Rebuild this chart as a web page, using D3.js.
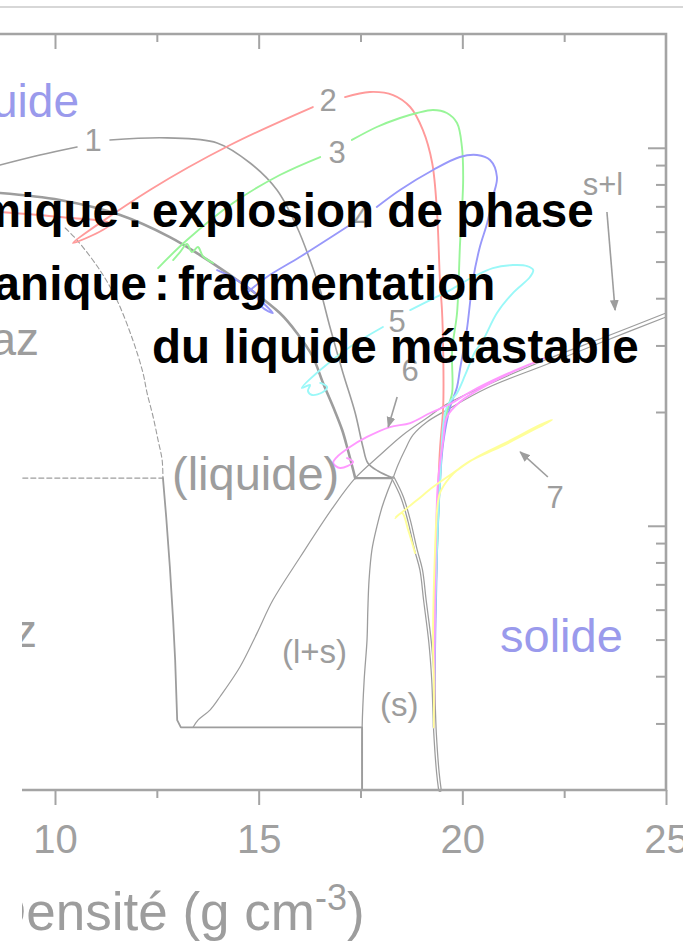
<!DOCTYPE html>
<html>
<head>
<meta charset="utf-8">
<script src="https://cdn.jsdelivr.net/npm/d3@7"></script>
<style>
  html, body { margin: 0; padding: 0; background: #fff; }
  svg { display: block; }
</style>
</head>
<body>
<svg id="chart" width="683" height="941"></svg>
<script>
// ---- axis ticks: density (g cm^-3) and temperature (K, log) ----
const densityMajorTicks = [10, 15, 20, 25];
const densityMinorTicks = [12.5, 17.5, 22.5];
const densityTickLabels = ["10", "15", "20", "25"];
const temperatureMajorTicks = [1000, 10000];
const temperatureMinorTicks = [300, 400, 500, 600, 700, 800, 900,
  2000, 3000, 4000, 5000, 6000, 7000, 8000, 9000];

// ---- phase boundaries, points are [density, temperature] ----
const liquidBinodal = [[8.65,7590],[10.12,7275],[11.60,6640],[12.82,5806],[13.56,5203],
  [14.54,4414],[15.52,3655],[15.94,3236],[16.33,2796],[16.58,2387],[16.83,2062],
  [17.05,1792],[17.19,1587],[17.32,1405],[17.37,1337]];
const tripleLine = [[17.37,1337],[18.30,1337]];
const solidBinodal = [[18.30,1337],[18.52,1192],[18.69,1036],[18.86,863],[18.99,764],
  [19.08,636],[19.21,490],[19.28,391],[19.33,283],[19.40,222],[19.45,200]];
const solidBoundary = [[18.30,1337],[18.15,1221],[18.03,1121],[17.90,993],[17.78,863],
  [17.71,719],[17.68,599],[17.66,499],[17.59,391],[17.54,293],[17.54,200]];
const meltingUpper = [[13.39,293],[13.51,306],[13.81,326],[14.05,353],[14.54,423],
  [14.96,520],[15.35,636],[16.02,827],[16.83,1121],[17.37,1337],[17.98,1539],
  [18.54,1739],[19.13,1928],[19.62,2100],[20.61,2358],[22.03,2745],[23.50,3158],[25.00,3655]];
const meltingLower = [[18.30,1337],[18.42,1448],[18.59,1587],[18.79,1739],[19.13,1882],
  [19.62,2025],[20.61,2315],[22.03,2663],[23.50,3082],[25.00,3567]];
const spinodal = [[10.25,6135],[10.54,5701],[11.10,4749],[11.52,3956],[11.91,3101],
  [12.16,2537],[12.26,2246],[12.41,1940],[12.53,1686],[12.63,1493],[12.65,1337]];
const metastableLimit = [[9.21,1337],[12.65,1337]];
const lowTempBoundary = [[12.65,1337],[12.73,1055],[12.82,778],[12.90,563],[12.95,441],
  [13.00,306],[13.09,293],[17.54,293],[17.54,200]];

// ---- thermodynamic paths 1..7 (null = break around a label) ----
const path1 = [[8.65,9004],[9.63,9570],[10.54,10050],null,[11.35,10490],[12.75,10620],
  [13.98,10300],[14.79,9115],[15.45,7732],[15.94,6172],[16.26,5047],[16.51,4204],
  [16.75,3356],[17.07,2537],[17.37,1988],[17.56,1616],[17.68,1466],[17.93,1396],[18.30,1337]];
const path2 = [[19.30,293],[19.33,469],[19.33,706],[19.38,1055],[19.45,1587],[19.53,2062],
  [19.53,2918],[19.50,3722],[19.45,4468],[19.38,6721],[19.26,9115],[19.03,11150],
  [18.72,12820],[18.30,13790],[17.73,14050],[17.12,13620],null,[16.33,12820],
  [14.30,10170],[12.33,7732],[10.44,5598],[11.35,6286],[10.12,6559],[8.65,6762]];
const path3 = [[19.30,293],[19.33,574],[19.38,863],[19.45,1298],[19.53,1760],[19.65,2062],
  [19.75,2246],[19.75,2918],[19.87,3655],[19.94,5463],[20.02,8218],[19.99,10050],
  [19.87,11630],[19.62,12360],[19.28,12590],[18.89,12360],[18.47,11990],[17.90,11350],
  [17.29,10490],null,[16.51,9454],[15.52,8473],[14.37,7143],[13.24,5701],[12.53,4807],
  null,[12.90,5047],[13.07,5299],[13.24,5564],[13.36,5299],[13.51,5463],[13.63,5172],[13.88,4956]];
const path4 = [[19.30,293],[19.38,863],[19.45,1298],[19.53,1656],[19.70,2062],[19.87,2329],
  [19.94,2583],[20.11,3296],[20.26,4468],[20.43,5463],[20.61,6325],[20.75,7409],
  [20.85,8370],[20.68,9283],[20.36,9570],[19.94,9454],[19.28,8734],[18.47,7732],
  [17.90,6971],null,[17.24,6248],[16.01,5140],[15.20,4551],[14.71,4128],
  null,[13.98,4749],[14.25,4606],[14.54,4414],[14.91,4128],[15.08,3791],[15.35,3655],[15.11,3884]];
const path5 = [[19.30,293],[19.33,574],[19.45,1298],[19.62,2062],[19.87,2246],[20.07,2506],
  [20.31,2882],[20.51,3101],[20.85,3655],[21.24,4128],[21.66,4551],[21.74,4749],
  [21.59,4866],[21.24,4896],[20.75,4807],[20.26,4551],[19.70,4204],[19.21,3956],
  [18.72,3722],null,[18.05,3356],[17.24,2972],[16.51,2583],[16.06,2315],[16.26,2358],
  [16.21,2273],[16.31,2218],[16.58,2259],[16.68,2329],[16.51,2387]];
const path6 = [[19.30,293],[19.33,636],[19.40,1298],[19.53,1686],[19.62,1940],[19.94,2126],
  [20.61,2358],[21.34,2583],[22.08,2796],[21.91,2745],[20.93,2476],[20.19,2259],
  [19.70,2100],[19.21,1988],[18.72,1870],[18.22,1825],[17.66,1718],[17.24,1616],
  [16.92,1520],[16.83,1466],[17.00,1422],[17.32,1475],[17.17,1511]];
const path7 = [[19.30,293],[19.30,391],[19.28,490],[19.33,863],[19.38,1101],[19.45,1221],
  [19.70,1346],[20.11,1466],[20.93,1616],[21.74,1792],[22.20,1905],[21.91,1848],
  [21.10,1666],[20.36,1520],[19.77,1379],[19.28,1266],[18.89,1170],[18.35,1049],
  [18.52,1081],[18.67,975],[18.84,847]];

// ---- pointer arrows [from, to] ----
const arrowSolidLiquid = [[23.55,6762],[23.75,3722]];
const arrowPath6 = [[18.40,2191],[18.18,1825]];
const arrowPath7 = [[22.10,1346],[21.42,1568]];

const GREY = "#9d9d9d";
const AXIS = "#a4a4a4";
const BLUE = "#9a9aec";
const FONT = "'Liberation Sans', Arial, Helvetica, sans-serif";

const svg = d3.select("#chart");

const x = d3.scaleLinear().domain([10, 25]).range([55, 666]);
const y = d3.scaleLog().domain([200, 20000]).range([790, 34]);

const straight = d3.line()
  .defined(d => d !== null)
  .x(d => x(d[0]))
  .y(d => y(d[1]));
const smooth = d3.line()
  .defined(d => d !== null)
  .curve(d3.curveCatmullRom.alpha(0.5))
  .x(d => x(d[0]))
  .y(d => y(d[1]));

// slide separator above the chart
svg.append("line")
  .attr("x1", 0).attr("x2", 683).attr("y1", 7).attr("y2", 7)
  .attr("stroke", "#cacaca").attr("stroke-width", 1.5);

const g = svg.append("g");

function draw(data, stroke, width, opts) {
  const o = opts || {};
  return g.append("path")
    .datum(data)
    .attr("d", o.straight ? straight : smooth)
    .attr("fill", "none")
    .attr("stroke", stroke)
    .attr("stroke-width", width)
    .attr("stroke-linejoin", "round")
    .attr("stroke-linecap", "round")
    .attr("stroke-dasharray", o.dash || null);
}

// phase diagram
draw(spinodal, GREY, 1.1, { dash: "5,3" });
draw(metastableLimit, GREY, 1.3, { dash: "5,3", straight: true });
draw(lowTempBoundary, GREY, 1.8, { straight: true });
draw(meltingUpper, GREY, 1.2);
draw(meltingLower, GREY, 1.2);
draw(solidBoundary, GREY, 1.3);
draw(liquidBinodal, GREY, 2.6);
draw(tripleLine, GREY, 2.2, { straight: true });
draw(solidBinodal, GREY, 3.8);
draw(solidBinodal, "#ffffff", 1.3);

// paths
draw(path1, GREY, 1.6);
const pathColours = ["#ff9a9a", "#98f598", "#9898fa", "#9af8f8", "#ff99ff", "#ffff99"];
[path2, path3, path4, path5, path6, path7].forEach((p, i) => draw(p, pathColours[i], 1.9));

// arrows
const defs = svg.append("defs");
defs.append("marker")
  .attr("id", "head")
  .attr("viewBox", "0 0 10 10")
  .attr("refX", 9).attr("refY", 5)
  .attr("markerWidth", 11).attr("markerHeight", 11)
  .attr("markerUnits", "userSpaceOnUse")
  .attr("orient", "auto")
  .append("path")
  .attr("d", "M0,1 L10,5 L0,9 Z")
  .attr("fill", GREY);

[arrowSolidLiquid, arrowPath6, arrowPath7].forEach(a => {
  g.append("path")
    .datum(a)
    .attr("d", straight)
    .attr("stroke", GREY)
    .attr("stroke-width", 1.6)
    .attr("fill", "none")
    .attr("marker-end", "url(#head)");
});

// region and path labels
function label(txt, px, py, size, colour, anchor, weight) {
  return svg.append("text")
    .attr("x", px).attr("y", py)
    .attr("font-family", FONT)
    .attr("font-size", size)
    .attr("font-weight", weight || null)
    .attr("fill", colour)
    .attr("text-anchor", anchor || "start")
    .text(txt);
}

label("liquide", 79, 117, 46, BLUE, "end");
label("gaz", 39, 355, 46, GREY, "end");
label("gaz", 37, 647, 46, GREY, "end");
label("(liquide)", 172, 490, 47, GREY);
label("(l+s)", 282, 663, 33, GREY);
label("(s)", 380, 716, 33, GREY);
label("solide", 500, 652, 47, BLUE);
label("s+l", 603, 195, 31, GREY, "middle");

const pathLabels = ["1", "2", "3", "4", "5", "6", "7"];
const pathLabelPos = [[93,151],[328,111],[337,163],[362,228],[397,332],[410,381],[555,508]];
pathLabels.forEach((t, i) => label(t, pathLabelPos[i][0], pathLabelPos[i][1], 31, GREY, "middle"));

// axis title
const title = svg.append("text")
  .attr("x", -12).attr("y", 930)
  .attr("font-family", FONT)
  .attr("font-size", 53)
  .attr("fill", GREY);
title.append("tspan").text("Densité (g cm");
title.append("tspan").attr("font-size", 36).attr("dy", -20).text("-3");
title.append("tspan").attr("dy", 20).text(")");

// frame
svg.append("path")
  .attr("d", `M0,${y(20000)} H${x(25)} V${y(200)} H22`)
  .attr("fill", "none")
  .attr("stroke", AXIS)
  .attr("stroke-width", 2.6);

function styleAxis(sel) {
  sel.select(".domain").remove();
  sel.selectAll(".tick line").attr("stroke", AXIS).attr("stroke-width", 2);
}

// bottom axis (outward ticks with labels)
svg.append("g")
  .attr("transform", `translate(0,${y(200)})`)
  .call(d3.axisBottom(x).tickValues(densityMajorTicks).tickSize(15).tickPadding(20)
    .tickFormat((d, i) => densityTickLabels[i]))
  .call(styleAxis)
  .call(s => s.selectAll("text")
    .attr("font-family", FONT).attr("font-size", 40).attr("fill", "#a0a0a0"));
svg.append("g")
  .attr("transform", `translate(0,${y(200)})`)
  .call(d3.axisBottom(x).tickValues(densityMinorTicks).tickSize(8).tickFormat(""))
  .call(styleAxis);

// top axis (inward ticks)
svg.append("g")
  .attr("transform", `translate(0,${y(20000)})`)
  .call(d3.axisBottom(x).tickValues(densityMajorTicks.slice(0, 3)).tickSize(15).tickFormat(""))
  .call(styleAxis);
svg.append("g")
  .attr("transform", `translate(0,${y(20000)})`)
  .call(d3.axisBottom(x).tickValues(densityMinorTicks).tickSize(8).tickFormat(""))
  .call(styleAxis);

// right axis (inward ticks, log temperature)
svg.append("g")
  .attr("transform", `translate(${x(25)},0)`)
  .call(d3.axisLeft(y).tickValues(temperatureMajorTicks).tickSize(18).tickFormat(""))
  .call(styleAxis);
svg.append("g")
  .attr("transform", `translate(${x(25)},0)`)
  .call(d3.axisLeft(y).tickValues(temperatureMinorTicks).tickSize(10).tickFormat(""))
  .call(styleAxis);

// left margin mask
svg.append("rect")
  .attr("x", 0).attr("y", 362).attr("width", 22).attr("height", 579)
  .attr("fill", "#ffffff");

// headline text: word, colon, remainder placed separately
const HEAD = 47.6;
label("Thermique", 119, 227, HEAD, "#000", "end", "bold");
label(":", 135, 227, HEAD, "#000", "middle", "bold");
label("explosion de phase", 152, 227, HEAD, "#000", "start", "bold");
label("Mécanique", 147, 300, HEAD, "#000", "end", "bold");
label(":", 162, 300, HEAD, "#000", "middle", "bold");
label("fragmentation", 178, 300, HEAD, "#000", "start", "bold");
label("du liquide métastable", 152, 363, HEAD, "#000", "start", "bold");
</script>
</body>
</html>
